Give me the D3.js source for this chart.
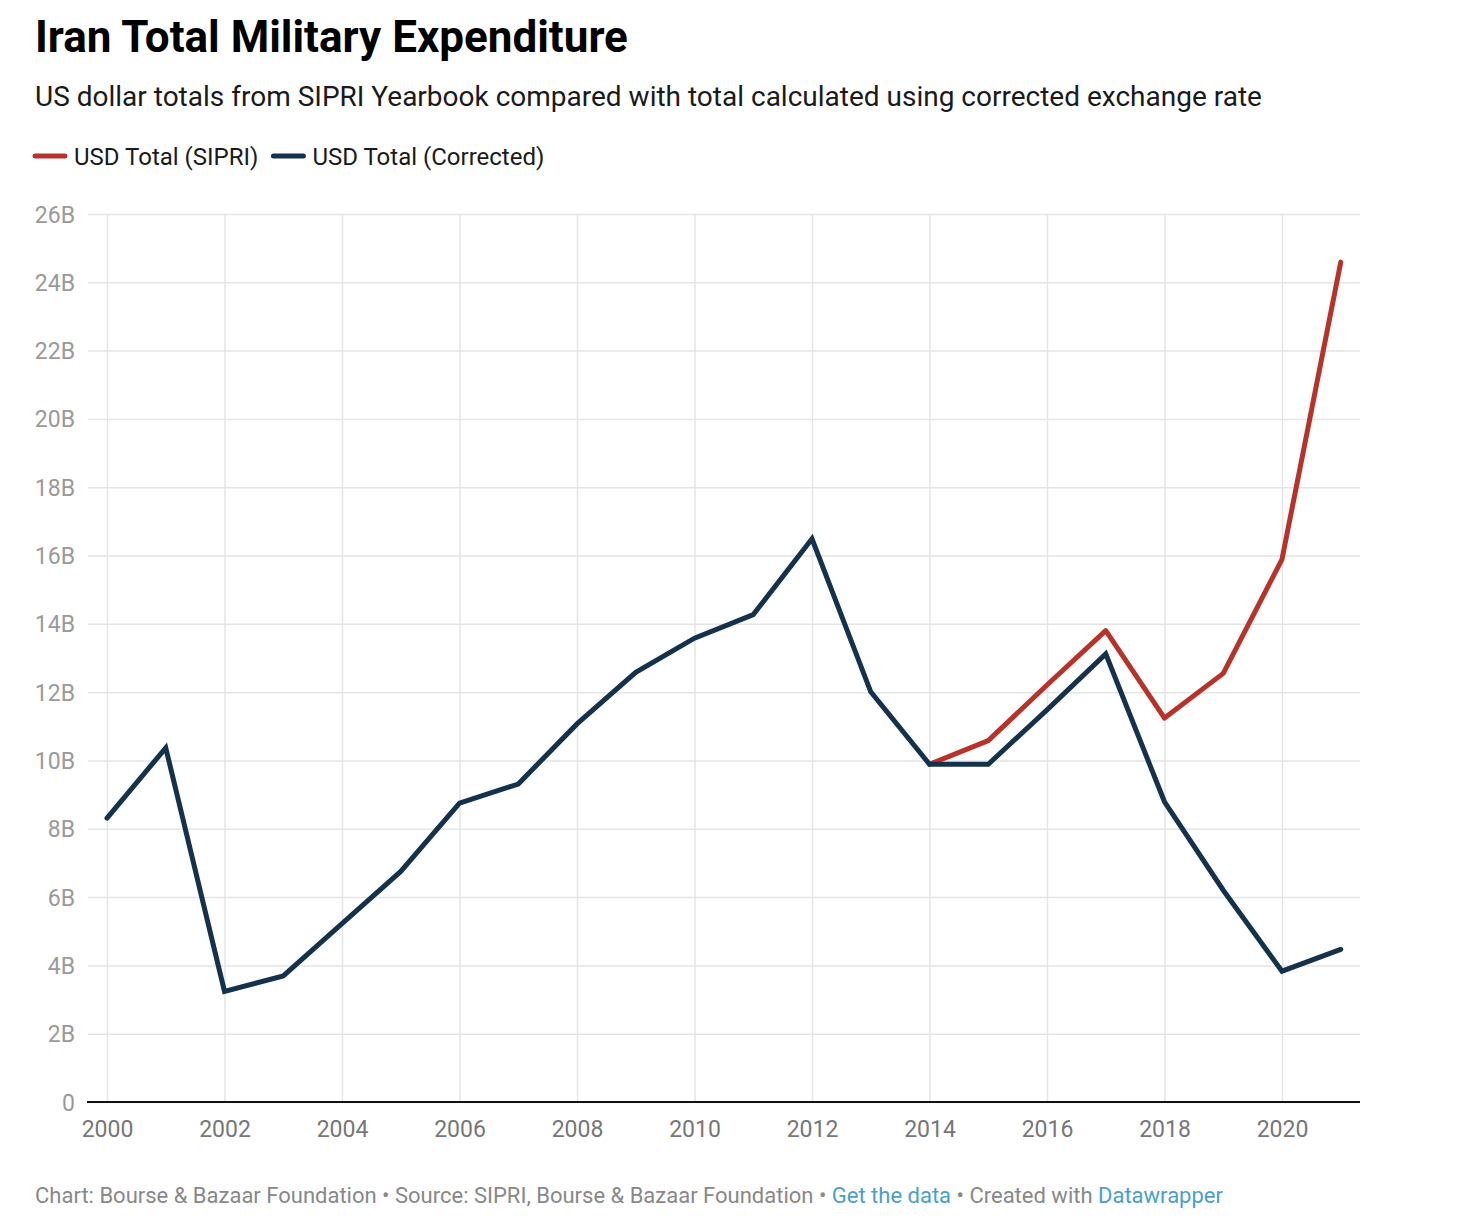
<!DOCTYPE html>
<html>
<head>
<meta charset="utf-8">
<script src="https://cdn.jsdelivr.net/npm/d3@7"></script>
<style>
  html, body { margin: 0; padding: 0; background: #fff; }
  svg { display: block; font-family: Roboto, "Noto Sans", sans-serif; }
</style>
</head>
<body>
<svg id="chart" width="1468" height="1226"></svg>
<script>
const years = [2000,2001,2002,2003,2004,2005,2006,2007,2008,2009,2010,2011,2012,2013,2014,2015,2016,2017,2018,2019,2020,2021];
const corrected = [8.31,10.37,3.24,3.69,5.22,6.75,8.75,9.31,11.07,12.58,13.58,14.27,16.49,12.01,9.89,9.89,11.48,13.12,8.79,6.2,3.83,4.47];
const sipriYears = [2014,2015,2016,2017,2018,2019,2020,2021];
const sipri = [9.89,10.58,12.21,13.8,11.24,12.55,15.89,24.59];
const yTicks = [0,2,4,6,8,10,12,14,16,18,20,22,24,26];
const xTicks = [2000,2002,2004,2006,2008,2010,2012,2014,2016,2018,2020];
const seriesNames = ["USD Total (SIPRI)", "USD Total (Corrected)"];
const colors = ["#b8322a", "#14324b"];

const svg = d3.select("#chart");

// Title, subtitle
svg.append("text").attr("x", 35).attr("y", 52)
  .attr("font-size", 44).attr("font-weight", 700).attr("fill", "#000")
  .text("Iran Total Military Expenditure");
svg.append("text").attr("x", 35).attr("y", 106)
  .attr("font-size", 28).attr("fill", "#1a1a1a")
  .text("US dollar totals from SIPRI Yearbook compared with total calculated using corrected exchange rate");

// Legend
const legend = svg.append("g");
let lx = 35;
seriesNames.forEach((name, i) => {
  legend.append("line").attr("x1", lx).attr("x2", lx + 30).attr("y1", 156).attr("y2", 156)
    .attr("stroke", colors[i]).attr("stroke-width", 5).attr("stroke-linecap", "round");
  const t = legend.append("text").attr("x", lx + 39).attr("y", 165)
    .attr("font-size", 24).attr("fill", "#1a1a1a").text(name);
  lx += 39 + t.node().getComputedTextLength() + 15;
});

// Scales
const x = d3.scaleLinear().domain([2000, 2021]).range([107, 1340.75]);
const y = d3.scaleLinear().domain([0, 26]).range([1102, 214]);

// Horizontal gridlines + y labels
const yAxis = d3.axisLeft(y).tickValues(yTicks)
  .tickSize(-(1360 - 88)).tickPadding(12)
  .tickFormat(d => d === 0 ? "0" : d + "B");
const gy = svg.append("g").attr("transform", "translate(88,0)").call(yAxis);
gy.select(".domain").remove();
gy.selectAll(".tick line").attr("stroke", "#e5e5e5").attr("stroke-width", 1.5);
gy.selectAll(".tick text").attr("font-size", 23).attr("fill", "#9a9a9a")
  .attr("font-family", "Roboto, sans-serif").attr("dy", "0.35em").attr("x", -13);

// Vertical gridlines + x labels
const xAxis = d3.axisBottom(x).tickValues(xTicks)
  .tickSize(-(1102 - 214)).tickPadding(16).tickFormat(d3.format("d"));
const gx = svg.append("g").attr("transform", "translate(0,1102)").call(xAxis);
gx.select(".domain").remove();
gx.selectAll(".tick line").attr("stroke", "#e5e5e5").attr("stroke-width", 1.5);
gx.selectAll(".tick text").attr("font-size", 23).attr("fill", "#777")
  .attr("font-family", "Roboto, sans-serif").attr("y", 35).attr("dy", "0");

// Baseline
svg.append("line").attr("x1", 87).attr("x2", 1360).attr("y1", y(0)).attr("y2", y(0))
  .attr("stroke", "#111").attr("stroke-width", 2);

// Lines
const line = d3.line().x(d => x(d[0])).y(d => y(d[1]));
svg.append("path").datum(sipriYears.map((yr, i) => [yr, sipri[i]]))
  .attr("d", line).attr("fill", "none").attr("stroke", colors[0])
  .attr("stroke-width", 5).attr("stroke-linejoin", "round").attr("stroke-linecap", "round");
svg.append("path").datum(years.map((yr, i) => [yr, corrected[i]]))
  .attr("d", line).attr("fill", "none").attr("stroke", colors[1])
  .attr("stroke-width", 5).attr("stroke-linejoin", "miter").attr("stroke-linecap", "round");

// Footer
const foot = svg.append("text").attr("x", 35).attr("y", 1203).attr("font-size", 22).attr("fill", "#888");
foot.append("tspan").text("Chart: Bourse & Bazaar Foundation • Source: SIPRI, Bourse & Bazaar Foundation • ");
foot.append("tspan").attr("fill", "#4b9ecf").text("Get the data");
foot.append("tspan").text(" • Created with ");
foot.append("tspan").attr("fill", "#4b9ecf").text("Datawrapper");
</script>
</body>
</html>
